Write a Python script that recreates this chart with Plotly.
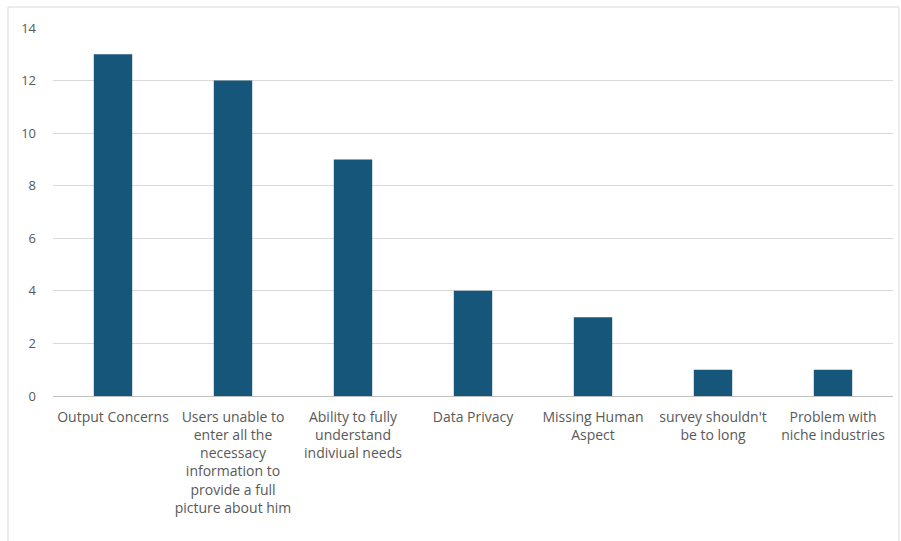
import plotly.graph_objects as go

categories = [
    "Output Concerns",
    "Users unable to<br>enter all the<br>necessacy<br>information to<br>provide a full<br>picture about him",
    "Ability to fully<br>understand<br>indiviual needs",
    "Data Privacy",
    "Missing Human<br>Aspect",
    "survey shouldn't<br>be to long",
    "Problem with<br>niche industries",
]
values = [13, 12, 9, 4, 3, 1, 1]
y_ticks = [0, 2, 4, 6, 8, 10, 12, 14]

fig = go.Figure(go.Bar(x=categories, y=values, marker_color="#16567a", marker_line_width=0))

fig.update_layout(
    width=901, height=541,
    margin=dict(l=53, r=8, t=28, b=145),
    paper_bgcolor="white", plot_bgcolor="white",
    bargap=0.68,
    showlegend=False,
    font=dict(family="Open Sans", size=13, color="#595959"),
    xaxis=dict(showgrid=False, showline=True, linecolor="#bfbfbf", linewidth=1,
               tickangle=0, ticks="", automargin=False, tickfont=dict(size=14),
               ticklabelstandoff=8),
    yaxis=dict(range=[0, 14], tickvals=y_ticks, showgrid=True, gridcolor="#d9d9d9",
               zeroline=False, showline=False, ticks="", ticklabelstandoff=16, automargin=False),
    shapes=[dict(type="rect", xref="paper", yref="paper",
                 x0=-0.0536, x1=1.007, y0=-0.45, y1=1.057,
                 line=dict(color="#d9d9d9", width=1), fillcolor="rgba(0,0,0,0)", layer="below")],
)

fig.write_html("out.html")
